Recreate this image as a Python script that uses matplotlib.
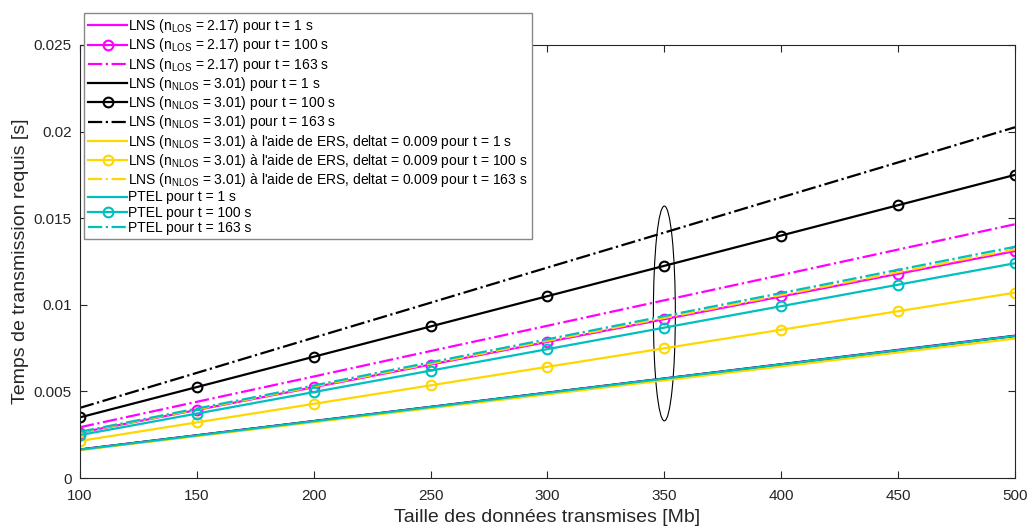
"""Temps de transmission requis vs taille des données (LNS / PTEL)."""

import matplotlib
matplotlib.use("Agg")
import matplotlib.pyplot as plt
from matplotlib.patches import Ellipse

plt.rcParams["font.family"] = ["Liberation Sans", "DejaVu Sans"]
plt.rcParams["mathtext.fontset"] = "custom"
plt.rcParams["mathtext.rm"] = "Liberation Sans"

taille = [100, 150, 200, 250, 300, 350, 400, 450, 500]

# LNS, n_LOS = 2.17
los_t1 = [0.00165, 0.00247, 0.00329, 0.00411, 0.00493, 0.00575, 0.00657, 0.00740, 0.00822]
los_t100 = [0.00262, 0.00393, 0.00524, 0.00655, 0.00786, 0.00917, 0.01048, 0.01179, 0.01310]
los_t163 = [0.00293, 0.00440, 0.00586, 0.00733, 0.00879, 0.01026, 0.01172, 0.01319, 0.01465]
# LNS, n_NLOS = 3.01
nlos_t1 = [0.00164, 0.00246, 0.00328, 0.00410, 0.00492, 0.00574, 0.00656, 0.00738, 0.00820]
nlos_t100 = [0.00350, 0.00525, 0.00700, 0.00875, 0.01050, 0.01225, 0.01400, 0.01575, 0.01750]
nlos_t163 = [0.00405, 0.00607, 0.00810, 0.01012, 0.01215, 0.01417, 0.01620, 0.01822, 0.02025]
# LNS, n_NLOS = 3.01 avec ERS
ers_t1 = [0.00161, 0.00242, 0.00322, 0.00403, 0.00483, 0.00564, 0.00644, 0.00725, 0.00805]
ers_t100 = [0.00214, 0.00321, 0.00428, 0.00535, 0.00642, 0.00749, 0.00856, 0.00963, 0.01070]
ers_t163 = [0.00264, 0.00396, 0.00528, 0.00660, 0.00792, 0.00924, 0.01056, 0.01188, 0.01320]
# PTEL
ptel_t1 = [0.00164, 0.00246, 0.00328, 0.00410, 0.00492, 0.00574, 0.00656, 0.00738, 0.00820]
ptel_t100 = [0.00248, 0.00372, 0.00496, 0.00620, 0.00744, 0.00868, 0.00992, 0.01116, 0.01240]
ptel_t163 = [0.00267, 0.00401, 0.00534, 0.00668, 0.00801, 0.00935, 0.01068, 0.01202, 0.01335]

MAGENTA = "#ff00ff"
BLACK = "#000000"
YELLOW = "#ffd700"
CYAN = "#00bfbf"

series = [
    (los_t1, MAGENTA, "-", False, r"LNS (n$_{\rm LOS}$ = 2.17) pour t = 1 s"),
    (los_t100, MAGENTA, "-", True, r"LNS (n$_{\rm LOS}$ = 2.17) pour t = 100 s"),
    (los_t163, MAGENTA, "-.", False, r"LNS (n$_{\rm LOS}$ = 2.17) pour t = 163 s"),
    (nlos_t1, BLACK, "-", False, r"LNS (n$_{\rm NLOS}$ = 3.01) pour t = 1 s"),
    (nlos_t100, BLACK, "-", True, r"LNS (n$_{\rm NLOS}$ = 3.01) pour t = 100 s"),
    (nlos_t163, BLACK, "-.", False, r"LNS (n$_{\rm NLOS}$ = 3.01) pour t = 163 s"),
    (ers_t1, YELLOW, "-", False,
     r"LNS (n$_{\rm NLOS}$ = 3.01) à l'aide de ERS, deltat = 0.009 pour t = 1 s"),
    (ers_t100, YELLOW, "-", True,
     r"LNS (n$_{\rm NLOS}$ = 3.01) à l'aide de ERS, deltat = 0.009 pour t = 100 s"),
    (ers_t163, YELLOW, "-.", False,
     r"LNS (n$_{\rm NLOS}$ = 3.01) à l'aide de ERS, deltat = 0.009 pour t = 163 s"),
    (ptel_t1, CYAN, "-", False, "PTEL pour t = 1 s"),
    (ptel_t100, CYAN, "-", True, "PTEL pour t = 100 s"),
    (ptel_t163, CYAN, "-.", False, "PTEL pour t = 163 s"),
]

fig = plt.figure(figsize=(10.29, 5.31), dpi=100)
ax = fig.add_axes([0.0777, 0.0998, 0.9087, 0.8155])

for vals, color, ls, marker, label in series:
    ax.plot(taille, vals, color=color, linestyle=ls, linewidth=1.6,
            marker="o" if marker else None, markersize=7, markerfacecolor="none",
            markeredgewidth=1.5, label=label)

# ellipse highlighting the x = 350 Mb comparison
ax.add_patch(Ellipse((350, 0.0095), 9.4, 0.0124, fill=False, edgecolor="black", linewidth=0.8))

ax.set_xlim(100, 500)
ax.set_ylim(0, 0.025)
ax.set_xticks([100, 150, 200, 250, 300, 350, 400, 450, 500])
ax.set_yticks([0, 0.005, 0.01, 0.015, 0.02, 0.025])
ax.set_yticklabels(["0", "0.005", "0.01", "0.015", "0.02", "0.025"])
ax.tick_params(direction="in", top=True, right=True, length=5, width=0.8,
               labelsize=11, colors="#262626")
ax.tick_params(axis="x", pad=8)
ax.tick_params(axis="y", pad=6)
for sp in ax.spines.values():
    sp.set_color("#262626")
    sp.set_linewidth(0.8)
ax.set_xlabel("Taille des données transmises [Mb]", fontsize=14, color="#262626", labelpad=4)
ax.set_ylabel("Temps de transmission requis [s]", fontsize=14, color="#262626", labelpad=3)

fig.legend(loc="upper left", bbox_to_anchor=(84 / 1029, 1 - 13 / 531),
           fontsize=10, frameon=True, fancybox=False, edgecolor="#888888",
           framealpha=1, borderpad=0.3, labelspacing=0.09, handlelength=2.8,
           handletextpad=0.1, borderaxespad=0)

fig.savefig("out.png", dpi=100)
